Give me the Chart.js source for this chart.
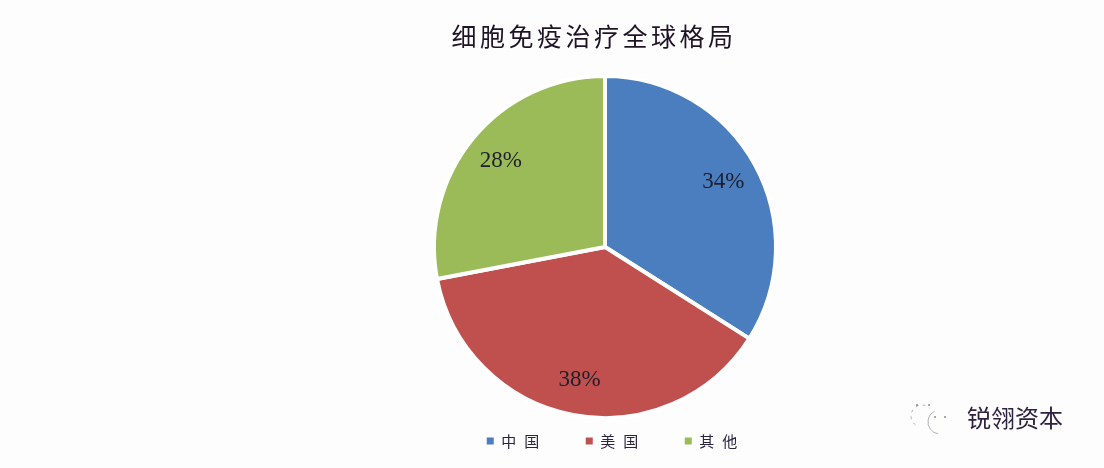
<!DOCTYPE html>
<html>
<head>
<meta charset="utf-8">
<script src="https://cdn.jsdelivr.net/npm/chart.js@4/dist/chart.umd.min.js"></script>
<style>
  html, body { margin: 0; padding: 0; background: #fdfdfe; }
  #wrap { width: 1104px; height: 468px; position: relative; }
</style>
</head>
<body>
<div id="wrap"><canvas id="c"></canvas></div>
<script>
// ---- data ----
const chartTitle = '细胞免疫治疗全球格局';
const categories = ['中国', '美国', '其他'];
const shares = [34, 38, 28];
const sliceColors = ['#4a7ebf', '#c0504d', '#9bbb59'];
const watermark = '锐翎资本';

function wrapBox(box, methods, ls, dx) {
  if (!box) return;
  methods.forEach(m => {
    const orig = box[m];
    box[m] = function (...args) {
      const ctx = this.ctx;
      ctx.save();
      ctx.letterSpacing = ls;
      if (m === 'draw' && dx) ctx.translate(dx, 0);
      const r = orig.apply(this, args);
      ctx.restore();
      return r;
    };
  });
}

const spacingPlugin = {
  id: 'spacing',
  afterInit(chart) {
    wrapBox(chart.titleBlock, ['draw'], '3.5px', -11);
    wrapBox(chart.legend, ['fit', 'draw'], '8px', 11);
  }
};

const labelPlugin = {
  id: 'sliceLabels',
  afterDatasetsDraw(chart) {
    const ctx = chart.ctx;
    const meta = chart.getDatasetMeta(0);
    ctx.save();
    ctx.font = '23px "Liberation Serif", "Times New Roman", serif';
    ctx.fillStyle = '#1e1e2c';
    ctx.textAlign = 'center';
    ctx.textBaseline = 'middle';
    meta.data.forEach((arc, i) => {
      const p = arc.getProps(['x', 'y', 'startAngle', 'endAngle', 'outerRadius'], true);
      const mid = (p.startAngle + p.endAngle) / 2;
      const r = p.outerRadius * 0.79;
      ctx.fillText(shares[i] + '%', p.x + Math.cos(mid) * r, p.y + Math.sin(mid) * r);
    });
    ctx.restore();
  }
};

const watermarkPlugin = {
  id: 'watermark',
  afterDraw(chart) {
    const ctx = chart.ctx;
    ctx.save();
    // faint logo outline
    ctx.strokeStyle = 'rgba(120,120,130,0.55)';
    ctx.lineWidth = 1;
    ctx.setLineDash([3, 4]);
    ctx.beginPath();
    ctx.arc(922, 416, 11, Math.PI * 0.7, Math.PI * 1.75);
    ctx.stroke();
    ctx.setLineDash([]);
    ctx.beginPath();
    ctx.arc(940, 422, 12, Math.PI * 0.55, Math.PI * 1.35);
    ctx.stroke();
    ctx.fillStyle = 'rgba(90,90,100,0.7)';
    [[917, 405], [929, 405], [935, 417], [945, 417]].forEach(([x, y]) => {
      ctx.beginPath(); ctx.arc(x, y, 1, 0, Math.PI * 2); ctx.fill();
    });
    ctx.font = '24px "Noto Sans CJK SC", sans-serif';
    ctx.fillStyle = '#2f2240';
    ctx.textAlign = 'left';
    ctx.textBaseline = 'middle';
    ctx.fillText(watermark, 967, 418);
    ctx.restore();
  }
};

new Chart(document.getElementById('c'), {
  type: 'pie',
  data: {
    labels: categories,
    datasets: [{
      data: shares,
      backgroundColor: sliceColors,
      borderColor: '#ffffff',
      borderWidth: 4,
      radius: 171
    }]
  },
  options: {
    responsive: true,
    maintainAspectRatio: false,
    animation: false,
    layout: { padding: { left: 106, right: 0, top: 0, bottom: 9.5 } },
    plugins: {
      tooltip: { enabled: false },
      title: {
        display: true,
        text: chartTitle,
        color: '#1f1426',
        font: { family: '"Noto Sans CJK SC", sans-serif', size: 25, weight: 'normal', lineHeight: 1.2 },
        padding: { top: 21, bottom: 48 }
      },
      legend: {
        position: 'bottom',
        labels: {
          color: '#2a2440',
          font: { family: '"Noto Sans CJK SC", sans-serif', size: 15 },
          boxWidth: 7,
          boxHeight: 7,
          padding: 38.5,
          generateLabels(chart) {
            const items = Chart.overrides.pie.plugins.legend.labels.generateLabels(chart);
            items.forEach(it => { it.lineWidth = 0; it.strokeStyle = 'rgba(0,0,0,0)'; });
            return items;
          }
        }
      }
    }
  },
  plugins: [spacingPlugin, labelPlugin, watermarkPlugin]
});
</script>
</body>
</html>
